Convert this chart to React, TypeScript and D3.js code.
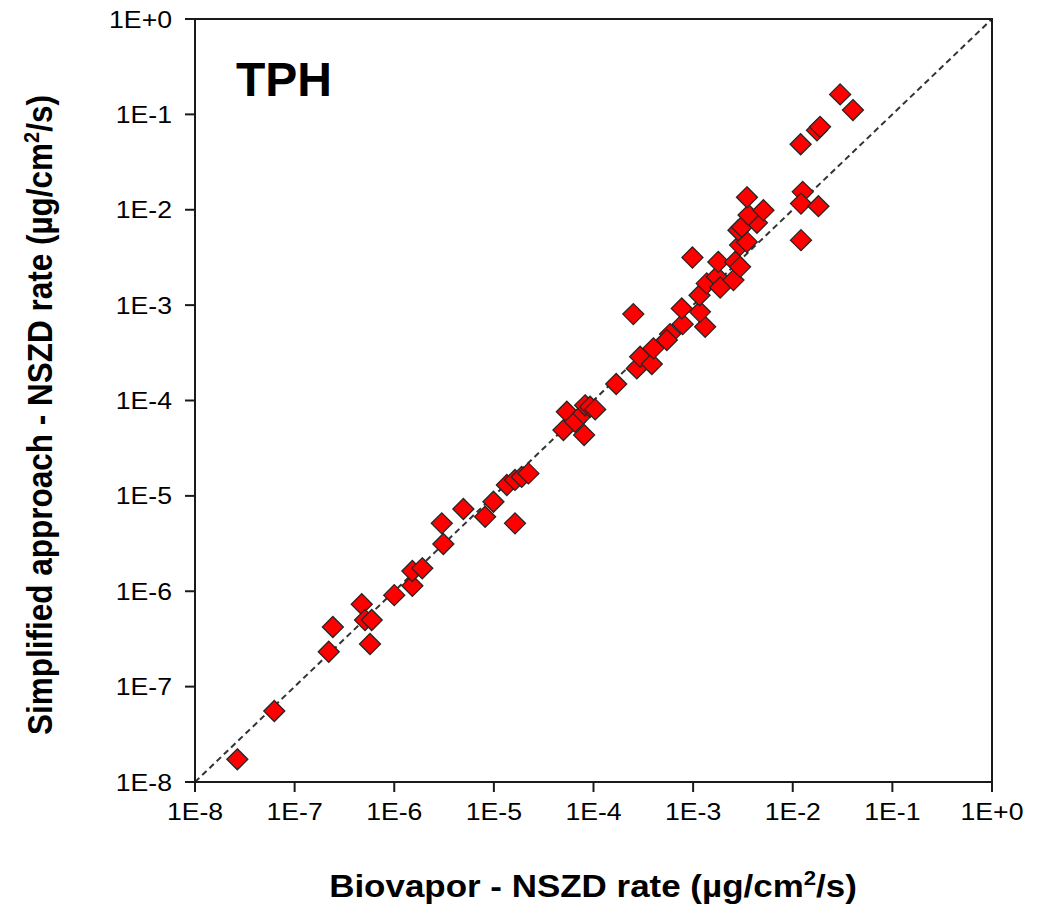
import React from "react";
import * as d3 from "d3";

const biovaporRate: number[] = [
  2.66e-8, 6.25e-8, 2.2e-7, 2.42e-7, 4.72e-7, 5.09e-7, 5.94e-7, 5.71e-7, 1.0e-6, 1.52e-6,
  1.52e-6, 1.91e-6, 3.11e-6, 3.0e-6, 4.94e-6, 8.17e-6, 9.9e-6, 1.63e-5, 1.35e-5, 1.63e-5,
  1.9e-5, 2.22e-5, 4.99e-5, 5.4e-5, 6.53e-5, 8.05e-5, 7.92e-5, 8.24e-5, 9.25e-5, 1.04e-4,
  1.69e-4, 2.72e-4, 2.94e-4, 3.85e-4, 4.0e-4, 2.51e-4, 5.87e-4, 5.45e-4, 7.85e-4, 1.32e-3,
  7.69e-4, 1.17e-3, 1.16e-3, 1.37e-3, 1.73e-3, 1.87e-3, 2.54e-3, 9.84e-4, 1.79e-3, 2.64e-3,
  2.96e-3, 2.96e-3, 3.46e-3, 2.85e-3, 3.08e-3, 4.37e-3, 3.6e-3, 5.08e-3, 3.47e-3, 1.26e-2,
  1.21e-2, 1.81e-2, 1.21e-2, 1.2e-2, 1.75e-2, 1.88e-2, 2.99e-2, 4.02e-2,
];

const simplifiedRate: number[] = [
  1.73e-8, 5.55e-8, 2.32e-7, 4.22e-7, 7.3e-7, 4.99e-7, 4.99e-7, 2.8e-7, 9.1e-7, 1.14e-6,
  1.63e-6, 1.74e-6, 3.13e-6, 5.15e-6, 7.28e-6, 6.04e-6, 8.67e-6, 5.15e-6, 1.3e-5, 1.47e-5,
  1.58e-5, 1.72e-5, 4.9e-5, 7.62e-5, 5.98e-5, 4.34e-5, 7.33e-5, 8.9e-5, 8.6e-5, 8.07e-5,
  1.49e-4, 2.17e-4, 2.88e-4, 2.41e-4, 3.52e-4, 8.05e-4, 4.97e-4, 4.3e-4, 6.32e-4, 5.93e-4,
  9.23e-4, 8.5e-4, 1.27e-3, 1.69e-3, 1.98e-3, 1.53e-3, 1.83e-3, 3.16e-3, 2.84e-3, 2.84e-3,
  2.52e-3, 4.26e-3, 4.6e-3, 6.1e-3, 6.6e-3, 7.3e-3, 8.8e-3, 9.9e-3, 1.35e-2, 1.54e-2,
  1.16e-2, 1.09e-2, 4.8e-3, 4.86e-2, 6.8e-2, 7.4e-2, 0.162, 0.111,
];

const tickValues: number[] = [1e-8, 1e-7, 1e-6, 1e-5, 1e-4, 1e-3, 1e-2, 1e-1, 1e0];
const tickLabels: string[] = ["1E-8", "1E-7", "1E-6", "1E-5", "1E-4", "1E-3", "1E-2", "1E-1", "1E+0"];

const panelLabel = "TPH";
const xTitle = "Biovapor - NSZD rate (µg/cm";
const yTitle = "Simplified approach - NSZD rate (µg/cm";

export default function App() {
  const W = 1051;
  const H = 916;
  const left = 195, right = 992, top = 19, bottom = 782;
  const x = d3.scaleLog().domain([1e-8, 1]).range([left, right]);
  const y = d3.scaleLog().domain([1e-8, 1]).range([bottom, top]);
  const font = "Arial, 'Liberation Sans', sans-serif";
  const diamond = "M0,-10.5L10.5,0L0,10.5L-10.5,0Z";
  const axisColor = "#1a1a1a";
  const sx = 1.11;

  return (
    <svg width={W} height={H} style={{ position: "absolute", left: 0, top: 0, background: "#fff" }}>
      <line x1={x(1e-8)} y1={y(1e-8)} x2={x(1)} y2={y(1)} stroke="#333" strokeWidth={2} strokeDasharray="6,4" />
      {biovaporRate.map((bv, i) => (
        <path key={i} d={diamond} transform={`translate(${x(bv)},${y(simplifiedRate[i])})`}
          fill="#ff0000" stroke="#262626" strokeWidth={1.3} />
      ))}
      <rect x={left} y={top} width={right - left} height={bottom - top} fill="none" stroke={axisColor} strokeWidth={2} />
      {tickValues.map((t, i) => (
        <g key={"x" + i}>
          <line x1={x(t)} x2={x(t)} y1={bottom} y2={bottom + 10} stroke={axisColor} strokeWidth={2} />
          <text transform={`translate(${x(t)},${bottom + 38}) scale(${sx},1)`} textAnchor="middle"
            fontFamily={font} fontSize={24} fill="#000">{tickLabels[i]}</text>
        </g>
      ))}
      {tickValues.map((t, i) => (
        <g key={"y" + i}>
          <line x1={left - 10} x2={left} y1={y(t)} y2={y(t)} stroke={axisColor} strokeWidth={2} />
          <text transform={`translate(${left - 23},${y(t) + 8.5}) scale(${sx},1)`} textAnchor="end"
            fontFamily={font} fontSize={24} fill="#000">{tickLabels[i]}</text>
        </g>
      ))}
      <text x={236} y={96} fontFamily={font} fontSize={48} fontWeight="bold" fill="#000">{panelLabel}</text>
      <text transform={`translate(593,897) scale(${sx},1)`} textAnchor="middle" fontFamily={font} fontSize={31.5} fontWeight="bold" fill="#000">
        {xTitle}<tspan fontSize={20} dy={-12}>2</tspan><tspan dy={12}>/s)</tspan>
      </text>
      <text transform={`translate(52,415) scale(${sx},1) rotate(-90)`} textAnchor="middle" fontFamily={font} fontSize={31.5} fontWeight="bold" fill="#000">
        {yTitle}<tspan fontSize={20} dy={-12}>2</tspan><tspan dy={12}>/s)</tspan>
      </text>
    </svg>
  );
}
